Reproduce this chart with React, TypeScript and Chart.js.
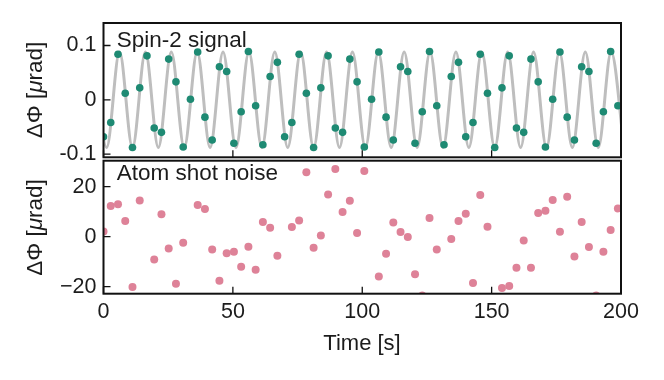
import React, { useEffect, useRef } from 'react';
import { Chart, registerables } from 'chart.js';

Chart.register(...registerables);

const FONT = '"Liberation Sans", Arial, Helvetica, sans-serif';
const TEXT = '#1c1c1c';

// sampling times [s]
const SAMPLE_T = [
  0, 2.8, 5.6, 8.4, 11.2, 14, 16.8, 19.6, 22.4, 25.2, 28, 30.8, 33.6, 36.4, 39.2, 42, 44.8, 47.6,
  50.4, 53.2, 56, 58.8, 61.6, 64.4, 67.2, 70, 72.8, 75.6, 78.4, 81.2, 84, 86.8, 89.6, 92.4, 95.2, 98,
  100.8, 103.6, 106.4, 109.2, 112, 114.8, 117.6, 120.4, 123.2, 126, 128.8, 131.6, 134.4, 137.2, 140,
  142.8, 145.6, 148.4, 151.2, 154, 156.8, 159.6, 162.4, 165.2, 168, 170.8, 173.6, 176.4, 179.2, 182,
  184.8, 187.6, 190.4, 193.2, 196, 198.8,
];

// Spin-2 signal samples [µrad]
const SPIN2 = [
  -0.068, -0.042, 0.084, 0.012, -0.088, 0.022, 0.081, -0.052, -0.06, 0.075, 0.033, -0.087, 0.001,
  0.088, -0.032, -0.074, 0.061, 0.052, -0.08, -0.022, 0.089, -0.011, -0.083, 0.043, 0.069,
  -0.068, -0.042, 0.084, 0.012, -0.088, 0.022, 0.081, -0.052, -0.06, 0.075, 0.033, -0.087, 0.001,
  0.088, -0.032, -0.074, 0.061, 0.052, -0.08, -0.022, 0.089, -0.011, -0.083, 0.043, 0.069,
  -0.068, -0.042, 0.084, 0.012, -0.088, 0.022, 0.081, -0.052, -0.06, 0.075, 0.033, -0.087, 0.001,
  0.088, -0.032, -0.074, 0.061, 0.052, -0.08, -0.022, 0.089, -0.011,
];

// Atom shot noise samples [µrad]
const NOISE = [
  2.1, 12.3, 13.0, 6.3, -20.1, 14.5, 33, -9.1, 9.0, -4.7, -18.8, -2.4, -27, 12.7, 11.1, -5.1, -17.6,
  -6.6, -6.0, -12.0, -4.0, -13.2, 5.9, 3.6, -7.6, 34, 3.9, 6.5, 25.8, -4.4, 0.5, 16.9, 27.1, 9.9,
  14.4, 1.5, 26.3, -28, -15.9, -6.8, 5.7, 1.9, -0.1, -15.0, -23.5, 7.5, -5.1, 33, -0.9, 6.3, 9.2,
  -18.5, 16.7, 4.0, -27, -20.5, -19.7, -12.4, -1.5, -12.4, 9.5, 10.4, 14.7, 2.0, 16.0, -7.9, 5.9,
  -4.1, -23.5, -6.0, 2.7, 11.3,
];

// extrema of the grey model curve (time [s], value)
const CURVE_T = [
  -3.8, 1.2, 6.2, 11.2, 16.2, 21.2, 26.2, 31.2, 36.2, 41.2, 46.2, 51.2, 56.2, 61.2, 66.2, 71.2,
  76.2, 81.2, 86.2, 91.2, 96.2, 101.2, 106.2, 111.2, 116.2, 121.2, 126.2, 131.2, 136.2, 141.2,
  146.2, 151.2, 156.2, 161.2, 166.2, 171.2, 176.2, 181.2, 186.2, 191.2, 196.2, 201.2,
];
const CURVE_V = [
  0.088, -0.088, 0.088, -0.088, 0.088, -0.088, 0.088, -0.088, 0.088, -0.088, 0.088, -0.088, 0.088,
  -0.088, 0.088, -0.088, 0.088, -0.088, 0.088, -0.088, 0.088, -0.088, 0.088, -0.088, 0.088, -0.088,
  0.088, -0.088, 0.088, -0.088, 0.088, -0.088, 0.088, -0.088, 0.088, -0.088, 0.088, -0.088, 0.088,
  -0.088, 0.088, -0.088,
];

const X_TICKS = [0, 50, 100, 150, 200];
const TOP_Y_TICKS = [-0.1, 0, 0.1];
const BOT_Y_TICKS = [-20, 0, 20];

const TEAL = '#1e8a73';
const PINK = '#de8298';
const GREY = '#bebebe';

function drawYTitle(ctx: CanvasRenderingContext2D, cx: number, cy: number) {
  const size = 22.5;
  const parts: [string, string][] = [
    ['ΔΦ [', `${size}px ${FONT}`],
    ['μ', `italic ${size}px ${FONT}`],
    ['rad]', `${size}px ${FONT}`],
  ];
  ctx.save();
  ctx.translate(cx, cy);
  ctx.rotate(-Math.PI / 2);
  ctx.fillStyle = TEXT;
  ctx.textBaseline = 'middle';
  ctx.textAlign = 'left';
  let w = 0;
  for (const [s, f] of parts) {
    ctx.font = f;
    w += ctx.measureText(s).width;
  }
  let x = -w / 2;
  for (const [s, f] of parts) {
    ctx.font = f;
    ctx.fillText(s, x, 0);
    x += ctx.measureText(s).width;
  }
  ctx.restore();
}

function panelPlugin(cfg: {
  label: string;
  labelX: number;
  labelBaseline: number;
  yTitleX: number;
  yTitleY: number;
  xTitle?: { text: string; x: number; y: number };
}) {
  return {
    id: 'panelDeco',
    afterDraw(chart: any) {
      const { ctx, chartArea: a, scales } = chart;
      ctx.save();
      ctx.strokeStyle = '#111';
      ctx.lineWidth = 1.3;
      ctx.beginPath();
      for (const t of scales.y.ticks) {
        const py = scales.y.getPixelForValue(t.value);
        ctx.moveTo(a.left, py);
        ctx.lineTo(a.left + 7, py);
      }
      for (const t of scales.x.ticks) {
        const px = scales.x.getPixelForValue(t.value);
        ctx.moveTo(px, a.bottom);
        ctx.lineTo(px, a.bottom - 7);
      }
      ctx.stroke();
      ctx.lineWidth = 2;
      ctx.strokeRect(a.left, a.top, a.right - a.left, a.bottom - a.top);

      ctx.fillStyle = TEXT;
      ctx.font = `22.5px ${FONT}`;
      ctx.textAlign = 'left';
      ctx.textBaseline = 'alphabetic';
      ctx.fillText(cfg.label, cfg.labelX, cfg.labelBaseline);

      if (cfg.xTitle) {
        ctx.font = `22px ${FONT}`;
        ctx.textAlign = 'center';
        ctx.textBaseline = 'middle';
        ctx.fillText(cfg.xTitle.text, cfg.xTitle.x, cfg.xTitle.y);
      }
      ctx.restore();
      drawYTitle(ctx, cfg.yTitleX, cfg.yTitleY);
    },
  };
}

function fmtTop(v: number) {
  if (v === 0) return '0';
  return v < 0 ? '-' + String(Math.abs(v)) : String(v);
}
function fmtBot(v: number) {
  if (v === 0) return '0';
  return v < 0 ? '\u2212' + String(Math.abs(v)) : String(v);
}

function yScale(min: number, max: number, ticks: number[], fmt: (v: number) => string) {
  return {
    type: 'linear',
    min,
    max,
    afterBuildTicks: (s: any) => {
      s.ticks = ticks.map((v) => ({ value: v }));
    },
    afterFit: (s: any) => {
      s.width = 103.5;
    },
    grid: { display: false, drawTicks: false },
    border: { display: false },
    ticks: {
      font: { family: FONT, size: 21.5 },
      color: TEXT,
      padding: 7,
      callback: (v: any) => fmt(Number(v)),
    },
  };
}

export default function App() {
  const topRef = useRef<HTMLCanvasElement>(null);
  const botRef = useRef<HTMLCanvasElement>(null);

  useEffect(() => {
    const topChart = new Chart(topRef.current as HTMLCanvasElement, {
      type: 'scatter',
      data: {
        datasets: [
          {
            data: SAMPLE_T.map((t, i) => ({ x: t, y: SPIN2[i] })),
            backgroundColor: TEAL,
            borderColor: TEAL,
            borderWidth: 0,
            pointRadius: 3.8,
            order: 0,
          },
          {
            type: 'line',
            data: CURVE_T.map((t, i) => ({ x: t, y: CURVE_V[i] })),
            borderColor: GREY,
            borderWidth: 3,
            pointRadius: 0,
            fill: false,
            cubicInterpolationMode: 'monotone',
            order: 1,
          } as any,
        ],
      },
      options: {
        responsive: false,
        animation: false,
        events: [],
        layout: { padding: { left: 0, right: 43, top: 23, bottom: 0 } },
        plugins: { legend: { display: false }, tooltip: { enabled: false } },
        scales: {
          x: {
            type: 'linear',
            min: 0,
            max: 200,
            afterBuildTicks: (s: any) => {
              s.ticks = X_TICKS.map((v) => ({ value: v }));
            },
            afterFit: (s: any) => {
              s.height = 22.7;
            },
            grid: { display: false, drawTicks: false },
            border: { display: false },
            ticks: { display: false },
          },
          y: yScale(-0.106, 0.1415, TOP_Y_TICKS, fmtTop) as any,
        },
      },
      plugins: [
        panelPlugin({
          label: 'Spin-2 signal',
          labelX: 116.7,
          labelBaseline: 46.7,
          yTitleX: 36,
          yTitleY: 90,
        }),
      ],
    } as any);

    const botChart = new Chart(botRef.current as HTMLCanvasElement, {
      type: 'scatter',
      data: {
        datasets: [
          {
            data: SAMPLE_T.map((t, i) => ({ x: t, y: NOISE[i] })),
            backgroundColor: PINK,
            borderColor: PINK,
            borderWidth: 0,
            pointRadius: 4,
          },
        ],
      },
      options: {
        responsive: false,
        animation: false,
        events: [],
        layout: { padding: { left: 0, right: 43, top: 20.7, bottom: 0 } },
        plugins: { legend: { display: false }, tooltip: { enabled: false } },
        scales: {
          x: {
            type: 'linear',
            min: 0,
            max: 200,
            afterBuildTicks: (s: any) => {
              s.ticks = X_TICKS.map((v) => ({ value: v }));
            },
            afterFit: (s: any) => {
              s.height = 86.3;
            },
            grid: { display: false, drawTicks: false },
            border: { display: false },
            ticks: {
              font: { family: FONT, size: 21.5 },
              color: TEXT,
              padding: 5,
              maxRotation: 0,
              callback: (v: any) => String(v),
            },
          },
          y: yScale(-22.8, 30.4, BOT_Y_TICKS, fmtBot) as any,
        },
      },
      plugins: [
        panelPlugin({
          label: 'Atom shot noise',
          labelX: 116.7,
          labelBaseline: 40,
          yTitleX: 36,
          yTitleY: 87.5,
          xTitle: { text: 'Time [s]', x: 362, y: 204 },
        }),
      ],
    } as any);

    return () => {
      topChart.destroy();
      botChart.destroy();
    };
  }, []);

  return (
    <div style={{ position: 'fixed', left: 0, top: 0, width: 664, height: 380, background: '#fff' }}>
      <canvas ref={topRef} width={664} height={180} style={{ position: 'absolute', left: 0, top: 0 }} />
      <canvas ref={botRef} width={664} height={240} style={{ position: 'absolute', left: 0, top: 140 }} />
    </div>
  );
}
